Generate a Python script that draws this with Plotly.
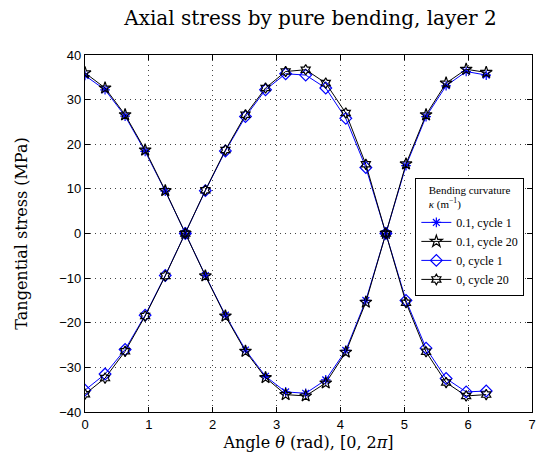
import plotly.graph_objects as go

angle = [0.000, 0.314, 0.628, 0.942, 1.257, 1.571, 1.885, 2.199, 2.513, 2.827,
         3.142, 3.456, 3.770, 4.084, 4.398, 4.712, 5.027, 5.341, 5.655, 5.969, 6.283]

k01_cycle1 = [35.4, 32.2, 26.3, 18.4, 9.5, 0.0, -9.4, -18.3, -26.1, -32.0,
              -35.5, -35.8, -32.8, -26.2, -15.0, 0.0, 15.2, 26.2, 33.1, 36.3, 35.5]
k01_cycle20 = [36.0, 32.6, 26.6, 18.7, 9.6, 0.0, -9.5, -18.5, -26.4, -32.3,
               -36.1, -36.4, -33.5, -26.6, -15.4, 0.0, 15.6, 26.6, 33.7, 36.8, 36.1]
k0_cycle1 = [-35.1, -31.5, -26.0, -18.3, -9.4, 0.0, 9.6, 18.5, 26.2, 32.2,
             35.8, 35.5, 32.6, 25.8, 14.8, 0.0, -15.0, -25.7, -32.5, -35.5, -35.3]
k0_cycle20 = [-36.0, -32.4, -26.4, -18.5, -9.5, 0.0, 9.7, 18.7, 26.6, 32.6,
              36.3, 36.7, 33.7, 27.0, 15.5, 0.0, -15.5, -26.5, -33.4, -36.4, -36.1]

names = ["0.1, cycle 1", "0.1, cycle 20", "0, cycle 1", "0, cycle 20"]

BLUE = "#0000ff"
BLACK = "#000000"
SERIF = "DejaVu Serif, Liberation Serif, serif"

fig = go.Figure()
series = [
    (k01_cycle1, names[0], BLUE, "asterisk-open", 8),
    (k01_cycle20, names[1], BLACK, "star-open", 9),
    (k0_cycle1, names[2], BLUE, "diamond-open", 9),
    (k0_cycle20, names[3], BLACK, "hexagram-open", 8),
]
for ys, nm, col, sym, sz in series:
    fig.add_trace(go.Scatter(
        x=angle, y=ys, name=nm, mode="lines+markers",
        line=dict(color=col, width=1),
        marker=dict(symbol=sym, size=sz, color=col, line=dict(color=col, width=1.2)),
    ))

axis_common = dict(
    showline=True, linecolor="black", linewidth=1.3, mirror="ticks",
    ticks="inside", ticklen=5, tickcolor="black",
    showgrid=True, gridcolor="#444444", griddash="1px,4px", gridwidth=1,
    zeroline=False, ticklabeloverflow="allow",
    tickfont=dict(family="Liberation Sans, Arial, sans-serif", size=13, color="black"),
)

fig.update_layout(
    width=539, height=463,
    margin=dict(l=85, r=3, t=55, b=51),
    paper_bgcolor="white", plot_bgcolor="white",
    title=dict(
        text="Axial stress by pure bending, layer 2",
        x=(85 + 536) / 2 / 539, xanchor="center", y=1 - 18 / 463, yanchor="middle",
        font=dict(family=SERIF, size=20, color="black"),
    ),
    xaxis=dict(
        range=[0, 7], dtick=1, tick0=0,
        title=dict(text="Angle <i>θ</i> (rad), [0, 2<i>π</i>]",
                   font=dict(family=SERIF, size=16, color="black"),
                   standoff=6),
        **axis_common,
    ),
    yaxis=dict(
        range=[-40, 40], dtick=10, tick0=0,
        title=dict(text="Tangential stress (MPa)",
                   font=dict(family=SERIF, size=16, color="black"),
                   standoff=27),
        **axis_common,
    ),
    legend=dict(
        x=(418 - 85) / 451, xanchor="left",
        y=(412 - 178) / 357, yanchor="top",
        bgcolor="white", bordercolor="black", borderwidth=1.3,
        font=dict(family="Liberation Serif, serif", size=12, color="black"),
        title=dict(text="Bending curvature<br><i>κ</i> (m<sup>−1</sup>)",
                   side="top center",
                   font=dict(family="Liberation Serif, serif", size=11, color="black")),
        itemwidth=30,
    ),
    showlegend=True,
)

fig.write_html("out.html",
               config={"displayModeBar": False},
               post_script="document.body.style.margin='0';document.body.style.overflow='hidden';")
